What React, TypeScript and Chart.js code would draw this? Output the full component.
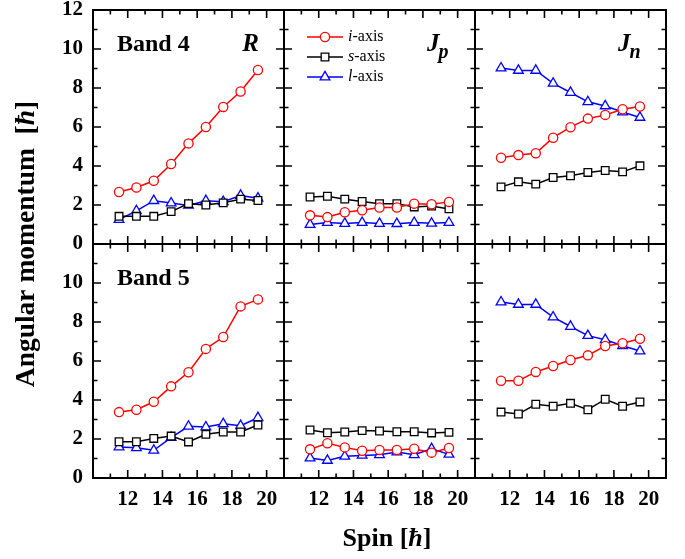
import React, { useEffect, useRef } from 'react';
import { Chart, registerables } from 'chart.js';

Chart.register(...registerables);

// ---------- data ----------
const spins = [11.5, 12.5, 13.5, 14.5, 15.5, 16.5, 17.5, 18.5, 19.5];

const xTickValues = [12, 14, 16, 18, 20];
const yTopTickValues = [0, 2, 4, 6, 8, 10, 12];
const yBottomTickValues = [0, 2, 4, 6, 8, 10];
const xTickMarks = [11, 12, 13, 14, 15, 16, 17, 18, 19, 20];
const yTickMarks = [1, 2, 3, 4, 5, 6, 7, 8, 9, 10, 11];

const seriesLabels = ['i', 's', 'l'];

// Band 4
const band4R_i = [2.67, 2.9, 3.24, 4.1, 5.16, 6.0, 7.03, 7.82, 8.92];
const band4R_s = [1.42, 1.42, 1.42, 1.66, 2.07, 2.0, 2.11, 2.3, 2.23];
const band4R_l = [1.25, 1.7, 2.22, 2.1, 1.98, 2.22, 2.17, 2.49, 2.35];

const band4Jp_i = [1.47, 1.38, 1.63, 1.73, 1.87, 1.87, 2.07, 2.04, 2.16];
const band4Jp_s = [2.41, 2.45, 2.3, 2.18, 2.07, 2.07, 1.9, 1.95, 1.8];
const band4Jp_l = [1.0, 1.1, 1.05, 1.1, 1.05, 1.04, 1.1, 1.06, 1.1];

const band4Jn_i = [4.42, 4.56, 4.65, 5.45, 5.99, 6.43, 6.62, 6.91, 7.05];
const band4Jn_s = [2.93, 3.19, 3.07, 3.41, 3.5, 3.67, 3.77, 3.7, 4.01];
const band4Jn_l = [9.02, 8.9, 8.9, 8.24, 7.77, 7.29, 7.08, 6.77, 6.49];

// Band 5
const band5R_i = [3.38, 3.5, 3.91, 4.7, 5.42, 6.62, 7.23, 8.8, 9.16];
const band5R_s = [1.86, 1.86, 2.03, 2.15, 1.85, 2.24, 2.36, 2.36, 2.72];
const band5R_l = [1.59, 1.55, 1.42, 2.07, 2.65, 2.61, 2.78, 2.68, 3.09];

const band5Jp_i = [1.47, 1.78, 1.57, 1.4, 1.44, 1.44, 1.5, 1.3, 1.54];
const band5Jp_s = [2.46, 2.32, 2.36, 2.43, 2.41, 2.37, 2.37, 2.31, 2.34];
const band5Jp_l = [1.02, 0.9, 1.11, 1.16, 1.19, 1.33, 1.19, 1.5, 1.21];

const band5Jn_i = [4.99, 4.99, 5.44, 5.74, 6.05, 6.29, 6.77, 6.91, 7.14];
const band5Jn_s = [3.38, 3.28, 3.78, 3.68, 3.83, 3.5, 4.04, 3.68, 3.9];
const band5Jn_l = [9.02, 8.9, 8.9, 8.25, 7.77, 7.3, 7.09, 6.78, 6.51];

const panels = [
  { row: 0, col: 0, series: [band4R_i, band4R_s, band4R_l] },
  { row: 0, col: 1, series: [band4Jp_i, band4Jp_s, band4Jp_l] },
  { row: 0, col: 2, series: [band4Jn_i, band4Jn_s, band4Jn_l] },
  { row: 1, col: 0, series: [band5R_i, band5R_s, band5R_l] },
  { row: 1, col: 1, series: [band5Jp_i, band5Jp_s, band5Jp_l] },
  { row: 1, col: 2, series: [band5Jn_i, band5Jn_s, band5Jn_l] },
];

// ---------- styles ----------
const FONT = '"Liberation Serif", "Times New Roman", serif';
const styles = [
  { color: '#ff0000', pointStyle: 'circle', radius: 4.6 },
  { color: '#000000', pointStyle: 'rect', radius: 5.4 },
  { color: '#0000ff', pointStyle: 'triangle', radius: 5.6 },
];

function drawMarker(ctx: CanvasRenderingContext2D, style: string, x: number, y: number, r: number) {
  ctx.beginPath();
  if (style === 'circle') {
    ctx.arc(x, y, r, 0, Math.PI * 2);
  } else if (style === 'rect') {
    const s = Math.SQRT1_2 * r;
    ctx.rect(x - s, y - s, 2 * s, 2 * s);
  } else {
    let rad = 0;
    ctx.moveTo(x + Math.sin(rad) * r, y - Math.cos(rad) * r);
    rad += (2 * Math.PI) / 3;
    ctx.lineTo(x + Math.sin(rad) * r, y - Math.cos(rad) * r);
    rad += (2 * Math.PI) / 3;
    ctx.lineTo(x + Math.sin(rad) * r, y - Math.cos(rad) * r);
    ctx.closePath();
  }
  ctx.fill();
  ctx.stroke();
}

const MAJOR = 8;
const MINOR = 4.5;

const framePlugin = {
  id: 'frameTicks',
  beforeDatasetsDraw(chart: any) {
    const ctx: CanvasRenderingContext2D = chart.ctx;
    ctx.save();
    ctx.strokeStyle = '#000';
    for (const r of [0, 1]) {
      for (const c of [0, 1, 2]) {
        const xs = chart.scales['x' + c];
        const ys = chart.scales['y' + r];
        const L = xs.left, R = xs.right, T = ys.top, B = ys.bottom;
        ctx.lineWidth = 1.6;
        ctx.beginPath();
        for (const v of xTickMarks) {
          const px = xs.getPixelForValue(v);
          const len = v % 2 === 0 ? MAJOR : MINOR;
          ctx.moveTo(px, B);
          ctx.lineTo(px, B - len);
          ctx.moveTo(px, T);
          ctx.lineTo(px, T + len);
        }
        for (const v of yTickMarks) {
          const py = ys.getPixelForValue(v);
          const len = v % 2 === 0 ? MAJOR : MINOR;
          ctx.moveTo(L, py);
          ctx.lineTo(L + len, py);
          ctx.moveTo(R, py);
          ctx.lineTo(R - len, py);
        }
        ctx.stroke();
        ctx.lineWidth = 2;
        ctx.strokeRect(L, T, R - L, B - T);
      }
    }
    ctx.restore();
  },
  afterDraw(chart: any) {
    const ctx: CanvasRenderingContext2D = chart.ctx;
    const x0 = chart.scales.x0, x1 = chart.scales.x1, x2 = chart.scales.x2;
    const y0 = chart.scales.y0, y1 = chart.scales.y1;
    ctx.save();
    ctx.fillStyle = '#000';
    ctx.textBaseline = 'alphabetic';

    // panel labels
    ctx.font = `bold 24px ${FONT}`;
    ctx.textAlign = 'left';
    ctx.fillText('Band 4', x0.left + 24, y0.top + 41);
    ctx.fillText('Band 5', x0.left + 24, y1.top + 41);
    ctx.font = `italic bold 25px ${FONT}`;
    ctx.textAlign = 'right';
    ctx.fillText('R', x0.right - 25, y0.top + 41);
    ctx.textAlign = 'left';
    const drawJ = (xs: any, sub: string) => {
      ctx.font = `italic bold 25px ${FONT}`;
      const jx = xs.right - 48;
      ctx.fillText('J', jx, y0.top + 41);
      const w = ctx.measureText('J').width;
      ctx.font = `italic bold 20px ${FONT}`;
      ctx.fillText(sub, jx + w - 1, y0.top + 48);
    };
    drawJ(x1, 'p');
    drawJ(x2, 'n');

    // legend
    const lx = x1.left + 23;
    styles.forEach((s, k) => {
      const ly = y0.top + 27 + k * 20;
      ctx.strokeStyle = s.color;
      ctx.fillStyle = '#fff';
      ctx.lineWidth = 1.5;
      ctx.beginPath();
      ctx.moveTo(lx, ly);
      ctx.lineTo(lx + 36, ly);
      ctx.stroke();
      ctx.lineWidth = 1.3;
      drawMarker(ctx, s.pointStyle, lx + 18, ly, s.radius);
      ctx.fillStyle = '#000';
      ctx.font = `italic 16px ${FONT}`;
      ctx.textBaseline = 'middle';
      ctx.fillText(seriesLabels[k], lx + 41, ly);
      const w = ctx.measureText(seriesLabels[k]).width;
      ctx.font = `16px ${FONT}`;
      ctx.fillText('-axis', lx + 41 + w, ly);
      ctx.textBaseline = 'alphabetic';
    });

    // axis titles
    const drawRich = (parts: [string, string][], cx: number, baseY: number) => {
      let total = 0;
      for (const [t, f] of parts) { ctx.font = f; total += ctx.measureText(t).width; }
      let x = cx - total / 2;
      for (const [t, f] of parts) {
        ctx.font = f;
        ctx.fillText(t, x, baseY);
        x += ctx.measureText(t).width;
      }
    };
    ctx.textAlign = 'left';
    ctx.fillStyle = '#000';
    const bold = `bold 26px ${FONT}`;
    const boldIt = `italic bold 26px ${FONT}`;
    drawRich([['Spin [', bold], ['ħ', boldIt], [']', bold]], 387, 546);

    const boldY = `bold 27.5px ${FONT}`;
    const boldItY = `italic bold 27.5px ${FONT}`;
    ctx.save();
    ctx.translate(34, (y0.top + y1.bottom) / 2);
    ctx.rotate(-Math.PI / 2);
    drawRich([['Angular momentum  [', boldY], ['ħ', boldItY], [']', boldY]], 0, 0);
    ctx.restore();

    ctx.restore();
  },
};

export default function App() {
  const canvasRef = useRef<HTMLCanvasElement | null>(null);

  useEffect(() => {
    if (!canvasRef.current) return;
    const datasets: any[] = [];
    panels.forEach((p) => {
      p.series.forEach((vals, k) => {
        const s = styles[k];
        datasets.push({
          label: `${seriesLabels[k]}-axis`,
          data: spins.map((x, j) => ({ x, y: vals[j] })),
          xAxisID: 'x' + p.col,
          yAxisID: 'y' + p.row,
          showLine: true,
          borderColor: s.color,
          borderWidth: 1.5,
          backgroundColor: '#ffffff',
          pointStyle: s.pointStyle,
          pointRadius: s.radius,
          pointBorderWidth: 1.3,
          pointBorderColor: s.color,
          pointBackgroundColor: '#ffffff',
          order: k,
        });
      });
    });

    const tickFont = { family: FONT, size: 21, weight: 'bold' as const };
    const scales: any = {};
    [0, 1, 2].forEach((c) => {
      scales['x' + c] = {
        type: 'linear',
        position: 'bottom',
        stack: 'xstack',
        stackWeight: 1,
        min: 10,
        max: 21,
        grid: { display: false, drawTicks: false },
        border: { display: false },
        ticks: { color: '#000', font: tickFont, padding: 9, maxRotation: 0, autoSkip: false },
        afterBuildTicks: (s: any) => { s.ticks = xTickValues.map((v) => ({ value: v })); },
        afterFit: (s: any) => { s.height = 40; s.paddingLeft = 0; s.paddingRight = 0; },
      };
    });
    [0, 1].forEach((r) => {
      const tv = r === 0 ? yTopTickValues : yBottomTickValues;
      scales['y' + r] = {
        type: 'linear',
        position: 'left',
        stack: 'ystack',
        stackWeight: 1,
        weight: r === 0 ? 1 : 0,
        min: 0,
        max: 12,
        grid: { display: false, drawTicks: false },
        border: { display: false },
        ticks: { color: '#000', font: tickFont, padding: 10, autoSkip: false },
        afterBuildTicks: (s: any) => { s.ticks = tv.map((v) => ({ value: v })); },
        afterFit: (s: any) => { s.width = 93; s.paddingTop = 0; s.paddingBottom = 0; },
      };
    });

    const chart = new Chart(canvasRef.current, {
      type: 'scatter',
      data: { datasets },
      options: {
        animation: false,
        responsive: false,
        devicePixelRatio: 1,
        layout: { padding: { left: 0, right: 19, top: 10, bottom: 41 } },
        plugins: { legend: { display: false }, tooltip: { enabled: false } },
        scales,
      } as any,
      plugins: [framePlugin as any],
    });
    return () => chart.destroy();
  }, []);

  return (
    <div style={{ position: 'fixed', left: 0, top: 0, width: 685, height: 559, background: '#fff' }}>
      <canvas ref={canvasRef} width={685} height={559} style={{ width: 685, height: 559 }} />
    </div>
  );
}
